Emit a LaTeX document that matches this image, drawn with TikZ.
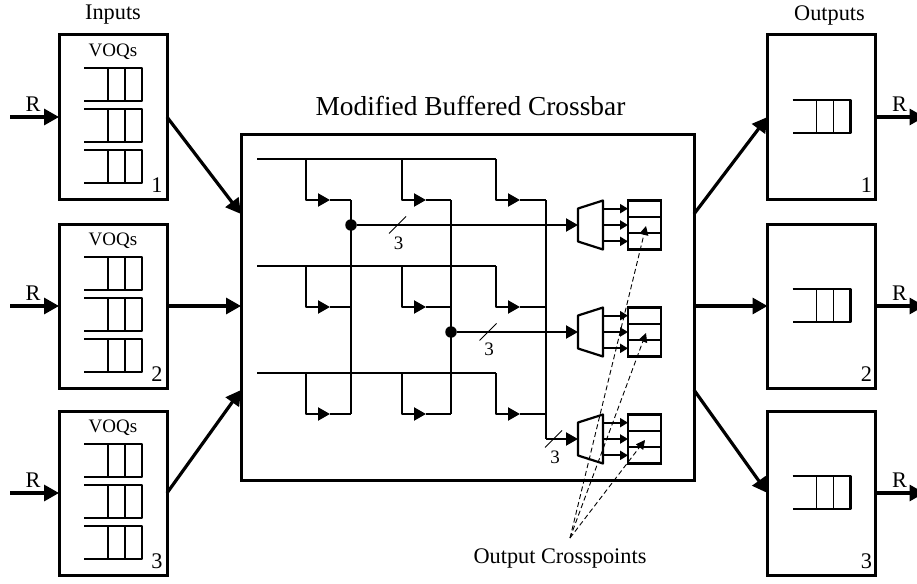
\documentclass[tikz,border=0pt]{standalone}
\usepackage{fontspec}
\setmainfont{Liberation Serif}
\usetikzlibrary{positioning, arrows.meta, calc}

\begin{document}
\begin{tikzpicture}[
    x=1pt, y=-1pt,
    port/.style={
      draw, rectangle, line width=3pt, outer sep=0pt,
      minimum width=108pt, minimum height=164pt
    },
    xbar/.style={
      draw, rectangle, line width=3pt, outer sep=0pt,
      minimum width=453pt, minimum height=346pt
    },
    cell/.style={
      draw, rectangle, line width=2.2pt, outer sep=0pt, inner sep=0pt,
      minimum width=33pt, minimum height=16.33pt
    },
    muxbox/.style={
      rectangle, outer sep=0pt, inner sep=0pt,
      minimum width=25pt, minimum height=49pt
    },
    dot/.style={circle, fill=black, inner sep=0pt, minimum size=11.5pt},
    biglabel/.style={font=\fontsize{27.4}{30}\selectfont},
    toplabel/.style={font=\fontsize{22.3}{24}\selectfont},
    smalllabel/.style={font=\fontsize{19}{22}\selectfont, inner sep=0pt},
    link/.style={-{Triangle[length=15pt, width=16pt]}, line width=3.2pt},
    wire/.style={line width=2.1pt, line join=round},
    feed/.style={wire, -{Triangle[length=12pt, width=13pt]}},
    tapout/.style={wire, -{Triangle[length=8pt, width=9pt]}},
    pointer/.style={
      -{Triangle[length=9pt, width=9pt]}, line width=0.9pt,
      dash pattern=on 5pt off 3pt
    },
    queue/.pic={
      \draw[line width=2.2pt, line join=round]
        (0,0) -- (58,0) -- (58,33) -- (0,33);
      \draw[line width=1.9pt] (24,0) -- (24,33) (41,0) -- (41,33);
    }
  ]
    \useasboundingbox (0,0) rectangle (917,583);

    % ── Input ports ──
    \node[port] (inp1) at (113,117) {};
    \node[port, below=25pt of inp1] (inp2) {};
    \node[port, below=23pt of inp2] (inp3) {};

    \node[toplabel, inner sep=0pt] (inlabel) at ($(inp1.north)+(0,-20)$) {Inputs};

    \foreach \n in {1,2,3} {
      \node[smalllabel] (voq\n) at ($(inp\n.north)+(0,17)$) {VOQs};
      \pic at ($(inp\n.north west)+(25,33)$) {queue};
      \pic at ($(inp\n.north west)+(25,74)$) {queue};
      \pic at ($(inp\n.north west)+(25,115)$) {queue};
      \node[toplabel, inner sep=0pt] (innum\n) at ($(inp\n.south east)+(-10,-14)$) {\n};
      \coordinate (infree\n) at ($(inp\n.west)+(-49,0)$);
      \draw[link] (infree\n) -- (inp\n.west);
      \node[toplabel, inner sep=0pt] (inR\n) at ($(inp\n.west)+(-26,-13)$) {R};
    }

    % ── Output ports ──
    \node[port] (out1) at (821.5,117) {};
    \node[port, below=25pt of out1] (out2) {};
    \node[port, below=23pt of out2] (out3) {};

    \node[toplabel, inner sep=0pt] (outlabel) at ($(out1.north)+(8,-20)$) {Outputs};

    \foreach \n in {1,2,3} {
      \pic at ($(out\n.west)+(25,-17)$) {queue};
      \node[toplabel, inner sep=0pt] (outnum\n) at ($(out\n.south east)+(-9,-14)$) {\n};
      \coordinate (outfree\n) at ($(out\n.east)+(49,0)$);
      \draw[link] (out\n.east) -- (outfree\n);
      \node[toplabel, inner sep=0pt] (outR\n) at ($(out\n.east)+(24,-13)$) {R};
    }

    % ── Crossbar ──
    \node[xbar] (cross) at (467.5,307) {};
    \node[biglabel, inner sep=0pt] (crosslabel) at (470.5,106) {Modified Buffered Crossbar};

    \coordinate (crossin1) at (241,214);
    \coordinate (crossin3) at (241,390);
    \coordinate (crossout1) at (694,214);
    \coordinate (crossout3) at (694,390);

    \draw[link] (inp1.east) -- (crossin1);
    \draw[link] (inp2.east) -- (cross.west |- inp2.east);
    \draw[link] (inp3.east) -- (crossin3);
    \draw[link] (crossout1) -- (out1.west);
    \draw[link] (cross.east |- out2.west) -- (out2.west);
    \draw[link] (crossout3) -- (out3.west);

    % ── Columns and row buses ──
    \coordinate (colA) at (351,200);
    \coordinate (colB) at (451,200);
    \coordinate (colC) at (546,200);
    \coordinate (colAend) at (351,414);
    \coordinate (colBend) at (451,414);
    \coordinate (colCend) at (546,439);

    \foreach \r/\y in {1/159,2/266,3/373} {
      \coordinate (busS\r) at (257,\y);
      \coordinate (busE\r) at (496,\y);
      \draw[wire] (busS\r) -- (busE\r);
      \foreach \c/\xa/\xb/\xc in {1/306/330/351,2/402/426/451,3/496/520/546} {
        \coordinate (drop\r\c) at (\xa,\y);
        \coordinate (tip\r\c) at (\xb,\y+41);
        \coordinate (join\r\c) at (\xc,\y+41);
        \draw[feed] (drop\r\c) |- (tip\r\c);
        \draw[wire] (tip\r\c) -- (join\r\c);
      }
    }

    \draw[wire] (colA) -- (colAend);
    \draw[wire] (colB) -- (colBend);
    \draw[wire] (colC) -- (colCend);

    % ── Muxes and crosspoint buffers ──
    \foreach \m/\y in {1/225,2/332,3/439} {
      \node[muxbox] (mux\m) at (590.5,\y) {};
      \draw[wire, line width=2.2pt]
        (mux\m.north east) -- (mux\m.south east)
        -- ($(mux\m.south west)+(0,-8)$) -- ($(mux\m.north west)+(0,8)$) -- cycle;
      \node[cell] (xp\m a) at (644.5,\y-16.33) {};
      \node[cell] (xp\m b) at (644.5,\y) {};
      \node[cell] (xp\m c) at (644.5,\y+16.33) {};
      \draw[tapout] (mux\m.east |- xp\m a.west) -- (xp\m a.west);
      \draw[tapout] (mux\m.east |- xp\m b.west) -- (xp\m b.west);
      \draw[tapout] (mux\m.east |- xp\m c.west) -- (xp\m c.west);
    }

    \node[dot] (tapA) at (351,225) {};
    \node[dot] (tapB) at (451,332) {};

    \draw[feed] (tapA) -- (mux1.west);
    \draw[feed] (tapB) -- (mux2.west);
    \draw[feed] (colCend) -- (mux3.west);

    % bus width ticks
    \draw[line width=0.9pt] (398,225) ++(-9,8.5) -- ++(17,-17);
    \draw[line width=0.9pt] (488,332) ++(-8.5,8.5) -- ++(17,-17);
    \draw[line width=0.9pt] (553.5,439) ++(-8.5,8.5) -- ++(17,-17);
    \node[smalllabel] (widthA) at (398.5,243) {3};
    \node[smalllabel] (widthB) at (489,349) {3};
    \node[smalllabel] (widthC) at (555,457) {3};

    % ── Output crosspoints pointers ──
    \node[toplabel, inner sep=0pt] (xplabel) at (560,558) {Output Crosspoints};
    \coordinate (xpfrom) at (570,538);
    \coordinate (xpto1) at (646,226);
    \coordinate (xpto2) at (646,333);
    \coordinate (xpto3) at (645,440);
    \draw[pointer] (xpfrom) -- (xpto1);
    \draw[pointer] (xpfrom) -- (xpto2);
    \draw[pointer] (xpfrom) -- (xpto3);

  \end{tikzpicture}
\end{document}
